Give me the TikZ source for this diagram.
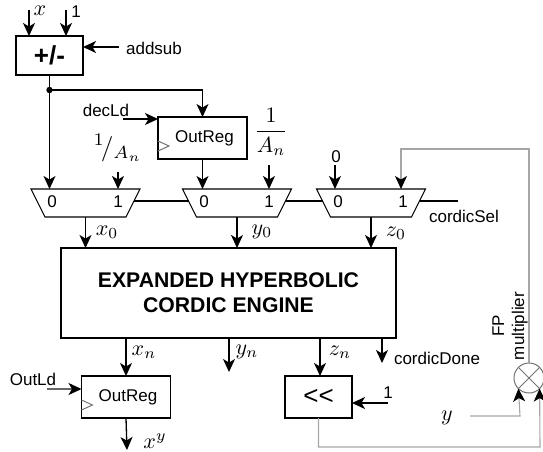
\documentclass[tikz,border=0pt]{standalone}
\usepackage{amsmath}
\usepackage{fontspec}
\setsansfont{Liberation Sans}
\usepackage{tikz}
\usetikzlibrary{calc}
\usetikzlibrary{arrows.meta,positioning}

\tikzset{
  sig/.style={line width=1.3pt, -{Stealth[length=13pt,width=12pt,inset=3.5pt,black]}},
  wire/.style={line width=1.1pt},
  fbline/.style={line width=1.1pt, draw=black!35},
  regbox/.style={draw, line width=1.1pt, rectangle, minimum width=89pt, minimum height=42pt, inner sep=0pt, outer sep=0pt, font=\sffamily\fontsize{17}{20}\selectfont},
  muxbox/.style={rectangle, minimum width=109pt, minimum height=28pt, inner sep=0pt, outer sep=0pt},
  lbl/.style={font=\sffamily\fontsize{17}{20}\selectfont, inner sep=0pt},
  mlbl/.style={scale=2.2, inner sep=0pt},
}

\begin{document}
\begin{tikzpicture}[x=1pt, y=-1pt, text=black]
\useasboundingbox (0,0) rectangle (543,452);
\def \muxtop {203}
\def \muxshape#1{\draw[wire] (#1.north west) -- (#1.north east) -- ([xshift=-14pt]#1.south east) -- ([xshift=14pt]#1.south west) -- cycle;}

%Adder
\node[regbox, minimum width=67pt, minimum height=39pt, font=\sffamily\bfseries\fontsize{26}{28}\selectfont] (adder) at (49.5,55.5) {+/-};
\node[mlbl] (xin) at (40,11) {$x$};
\node[lbl] (onein) at (76,12) {1};
\node[lbl] (addsub) at (154,48) {addsub};
\coordinate (xstart) at (29,10);
\coordinate (onestart) at (66,10);
\draw[sig] (xstart) -- (xstart |- adder.north);
\draw[sig] (onestart) -- (onestart |- adder.north);
\coordinate (addstart) at (119,47);
\draw[sig] (addstart) -- (addstart -| adder.east);

%Muxes
\node[muxbox] (mxone) at (85.5,\muxtop) {};
\node[muxbox] (mxtwo) at (237,\muxtop) {};
\node[muxbox] (mxthree) at (371,\muxtop) {};
\muxshape{mxone}
\muxshape{mxtwo}
\muxshape{mxthree}
\node[lbl] (szone) at (52,202) {0};
\node[lbl] (soone) at (118,202) {1};
\node[lbl] (sztwo) at (204,202) {0};
\node[lbl] (sotwo) at (269,202) {1};
\node[lbl] (szthree) at (338,202) {0};
\node[lbl] (sothree) at (403,202) {1};
\draw[wire] ([xshift=-6pt,yshift=2pt]mxone.east) -- ([xshift=6pt,yshift=2pt]mxtwo.west);
\draw[wire] ([xshift=-6pt,yshift=2pt]mxtwo.east) -- ([xshift=6pt,yshift=2pt]mxthree.west);
\coordinate (selend) at (458,201);
\draw[wire] ([xshift=-6pt,yshift=2pt]mxthree.east) -- (selend);
\node[lbl] (sel) at (464,216) {cordicSel};

%Registers
\node[regbox] (regone) at (202.5,138) {\hspace*{4pt}OutReg};
\node[regbox] (regtwo) at (126,397) {\hspace*{4pt}OutReg};
\def \clocktip#1{\draw[line width=1pt, black!55] ([yshift=-3pt]#1.west) -- ++(11,5) -- ++(-11,5);}
\clocktip{regone}
\clocktip{regtwo}

%Junction after adder
\coordinate (jun) at (adder.south |- 0,90);
\fill (jun) circle (3.2pt);
\draw[sig] (adder.south) -- (adder.south |- mxone.north);
\draw[sig] (jun) -| (regone.north);

%Load signals
\node[lbl] (decld) at (106,110) {decLd};
\coordinate (decstart) at (123,119);
\draw[sig] (decstart) -- (decstart -| regone.west);
\node[lbl] (outld) at (33,379) {OutLd};
\coordinate (ldstart) at (47,389);
\draw[sig, black!60] (ldstart) -- (ldstart -| regtwo.west);

%Mux data inputs
\node[mlbl, scale=1.15] (invone) at (118,148) {${}^{1}\!/_{A_n}$};
\node[mlbl] (invtwo) at (271,132) {$\dfrac{1}{A_n}$};
\node[lbl] (zeroin) at (336,157) {0};
\coordinate (invonestart) at (118,172);
\coordinate (invtwostart) at (269,165);
\coordinate (zerostart) at (335,165);
\draw[sig] (invonestart) -- (invonestart |- mxone.north);
\draw[sig] (regone.south) -- (regone.south |- mxtwo.north);
\draw[sig] (invtwostart) -- (invtwostart |- mxtwo.north);
\draw[sig] (zerostart) -- (zerostart |- mxthree.north);

%Engine
\node[draw, line width=1.1pt, rectangle, minimum width=335pt, minimum height=90pt, inner sep=0pt, outer sep=0pt, align=center, font=\sffamily\bfseries\fontsize{21.2}{25}\selectfont] (engine) at (228.5,293) {EXPANDED HYPERBOLIC\\CORDIC ENGINE};
\draw[sig] (mxone.south) -- (mxone.south |- engine.north);
\draw[sig] (mxtwo.south) -- (mxtwo.south |- engine.north);
\draw[sig] (mxthree.south) -- (mxthree.south |- engine.north);
\node[mlbl] (xzero) at (107,232) {$x_0$};
\node[mlbl] (yzero) at (262,232) {$y_0$};
\node[mlbl] (zzero) at (396,233) {$z_0$};

%Outputs
\node[regbox, minimum width=67pt] (shift) at (318.5,397) {\raisebox{-4pt}{\fontsize{26}{28}\selectfont {<}{<}}};
\coordinate (xnstart) at (126,338);
\coordinate (ynstart) at (229,338);
\coordinate (ynend) at (229,372);
\coordinate (znstart) at (320,338);
\coordinate (donestart) at (382,338);
\coordinate (doneend) at (382,363);
\draw[sig] (xnstart) -- (xnstart |- regtwo.north);
\draw[sig] (ynstart) -- (ynend);
\draw[sig] (znstart) -- (znstart |- shift.north);
\draw[sig] (donestart) -- (doneend);
\node[mlbl] (xn) at (144,352) {$x_n$};
\node[mlbl] (yn) at (247,352) {$y_n$};
\node[mlbl] (zn) at (340,352) {$z_n$};
\node[lbl] (done) at (437,358) {cordicDone};
\coordinate (xyend) at (127,450);
\draw[sig] (regtwo.south) -- (xyend);
\node[mlbl] (xy) at (155,441) {$x^{y}$};
\node[lbl] (oneshift) at (388,393) {1};
\coordinate (shiftstart) at (388,403);
\draw[sig] (shiftstart) -- (shiftstart -| shift.east);

%FP multiplier
\node[draw=black!55, line width=1pt, circle, minimum size=30pt, inner sep=0pt, outer sep=0pt] (fpm) at (529,378) {};
\draw[line width=1pt, black!55] (fpm.north east) -- (fpm.south west);
\draw[line width=1pt, black!55] (fpm.north west) -- (fpm.south east);
\node[lbl, rotate=90, align=center] (fplabel) at (510,326) {FP\\multiplier};
\node[mlbl] (ylab) at (447,418) {$y$};
\coordinate (ystart) at (470,416);
\coordinate (ycorner) at (520,416);
\coordinate (retcorner) at (540,447);
\coordinate (fbcorner) at (401,149);
\draw[sig, fbline] (ystart) -- (ycorner) -- (fpm.225);
\draw[sig, fbline] (shift.south) |- (retcorner) -- (fpm.315);
\draw[sig, fbline] (fpm.north) |- (fbcorner) -- (fbcorner |- mxthree.north);

\end{tikzpicture}
\end{document}
